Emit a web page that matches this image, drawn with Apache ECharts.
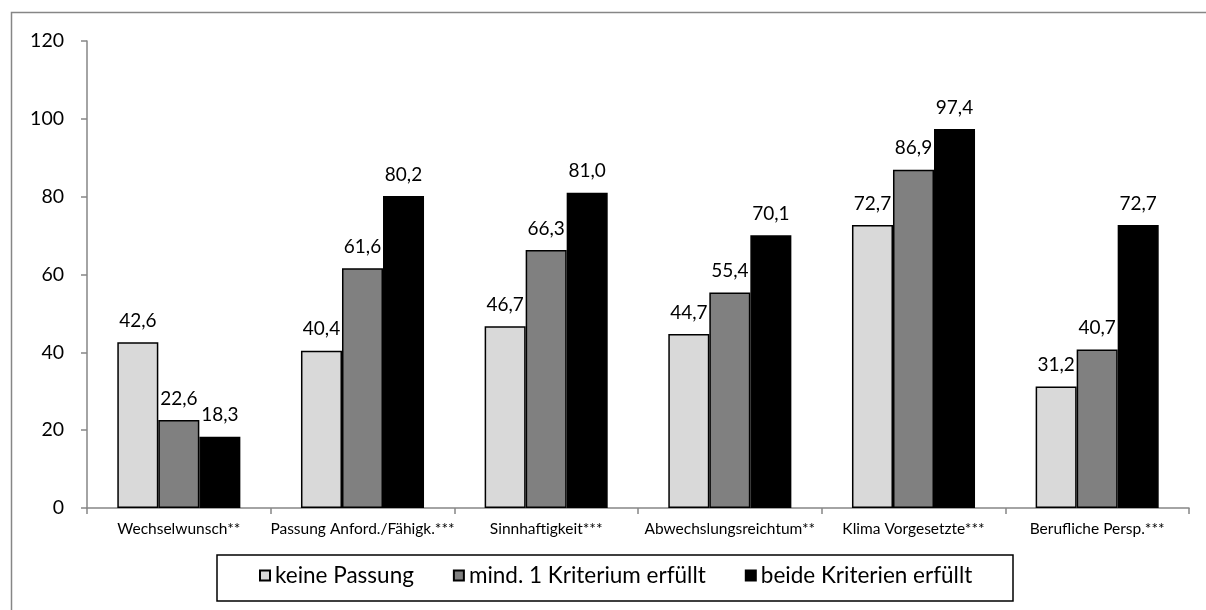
<!DOCTYPE html>
<html>
<head>
<meta charset="utf-8">
<script src="https://cdn.jsdelivr.net/npm/echarts@6/dist/echarts.min.js"></script>
<style>
html,body{margin:0;padding:0;background:#fff;}
#chart{width:1206px;height:610px;}
</style>
</head>
<body>
<div id="chart"></div>
<script>
const categories = ['Wechselwunsch**', 'Passung Anford./Fähigk.***', 'Sinnhaftigkeit***', 'Abwechslungsreichtum**', 'Klima Vorgesetzte***', 'Berufliche Persp.***'];
const seriesNames = ['keine Passung', 'mind. 1 Kriterium erfüllt', 'beide Kriterien erfüllt'];
const keinePassung = [42.6, 40.4, 46.7, 44.7, 72.7, 31.2];
const mind1Kriterium = [22.6, 61.6, 66.3, 55.4, 86.9, 40.7];
const beideKriterien = [18.3, 80.2, 81.0, 70.1, 97.4, 72.7];
const seriesColors = ['#d9d9d9', '#808080', '#000000'];
const yTicks = {min: 0, max: 120, interval: 20};

const FONT = 'Lato, "Open Sans", sans-serif';
const chart = echarts.init(document.getElementById('chart'), null, {renderer: 'canvas'});
const dataSets = [keinePassung, mind1Kriterium, beideKriterien];

const series = dataSets.map((d, i) => ({
  name: seriesNames[i],
  type: 'bar',
  data: d,
  barGap: '0%',
  barCategoryGap: '33%',
  itemStyle: {color: seriesColors[i], borderColor: '#000', borderWidth: 1.5},
  label: {
    show: true,
    position: 'top',
    distance: 12,
    color: '#000',
    fontFamily: FONT,
    fontSize: 19,
    formatter: p => p.value.toFixed(1).replace('.', ',')
  }
}));

chart.setOption({
  animation: false,
  backgroundColor: '#fff',
  grid: {left: 87, right: 17, top: 41, bottom: 102, containLabel: false},
  xAxis: {
    type: 'category',
    data: categories,
    axisLine: {show: true, lineStyle: {color: '#868686', width: 1.5}},
    axisTick: {show: true, length: 6, lineStyle: {color: '#868686', width: 1.5}},
    axisLabel: {color: '#000', fontFamily: FONT, fontSize: 15.5, margin: 13, interval: 0}
  },
  yAxis: {
    type: 'value',
    min: yTicks.min, max: yTicks.max, interval: yTicks.interval,
    splitLine: {show: false},
    axisLine: {show: true, lineStyle: {color: '#868686', width: 1.5}},
    axisTick: {show: true, length: 6, lineStyle: {color: '#868686', width: 1.5}},
    axisLabel: {color: '#000', fontFamily: FONT, fontSize: 19.5, margin: 23}
  },
  legend: {
    data: seriesNames,
    left: 259,
    top: 564,
    padding: 0,
    itemWidth: 10,
    itemHeight: 10,
    itemGap: 39,
    icon: 'rect',
    textStyle: {color: '#000', fontFamily: FONT, fontSize: 22.5}
  },
  graphic: [
    {type: 'rect', silent: true, z: -1, shape: {x: 11.5, y: 12.5, width: 1300, height: 800}, style: {fill: 'none', stroke: '#868686', lineWidth: 1.5}},
    {type: 'rect', silent: true, shape: {x: 217, y: 555, width: 796, height: 46}, style: {fill: 'none', stroke: '#000', lineWidth: 1.5}}
  ],
  series: series
});
</script>
</body>
</html>
